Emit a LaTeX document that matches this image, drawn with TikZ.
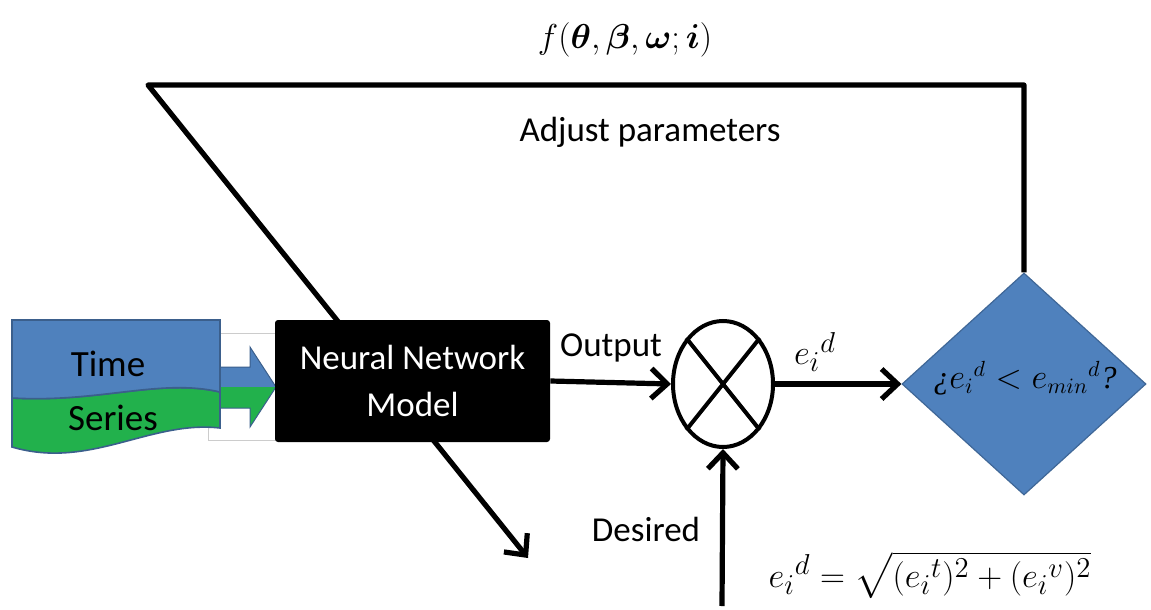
\documentclass[tikz,border=0pt]{standalone}
\usepackage{amsmath,amssymb}
\usepackage{fontspec}
\setmainfont{Carlito}
\newfontfamily\qfont{Liberation Serif}
\usetikzlibrary{arrows.meta,shapes.geometric}
\definecolor{offblue}{HTML}{4F81BD}
\definecolor{offblueline}{HTML}{3B5F8C}
\definecolor{tsgreen}{HTML}{22B14C}
\tikzset{
  flow/.style={line width=2.6pt, line join=round,
    -{Straight Barb[length=8pt,width=15pt]}},
  lbl/.style={font=\fontsize{17.5}{21}\selectfont, inner sep=0pt},
  mathlbl/.style={font=\fontsize{19}{22}\selectfont, inner sep=0pt},
  nnbox/.style={fill=black, text=white, rounded corners=1.5pt,
    minimum width=137.5pt, minimum height=61pt, align=center,
    font=\fontsize{17.5}{23.5}\selectfont},
  mixer/.style={ellipse, draw, line width=2pt, fill=white,
    minimum width=50pt, minimum height=63pt, inner sep=0pt},
  decision/.style={diamond, fill=offblue, draw=offblue!80!black, line width=0.6pt,
    minimum width=122pt, minimum height=111pt, inner sep=0pt}
}
\begin{document}
\begin{tikzpicture}[x=0.5pt,y=-0.5pt]
\useasboundingbox (0,0) rectangle (1151,610);

\coordinate (corner) at (148,85);
\coordinate (fbend) at (528,558);

% backing panel of the block arrow
\draw[black!20, line width=0.5pt, fill=white] (208,333) rectangle (276,440);

% input: time series document shape
\draw[draw=offblueline, line width=0.8pt, fill=tsgreen]
  (12,398) .. controls (100,403) and (160,378) .. (220,392)
  -- (220,428) .. controls (150,420) and (90,470) .. (12,447) -- cycle;
\draw[draw=offblueline, line width=0.8pt, fill=offblue]
  (12,320) -- (220,320) -- (220,392)
  .. controls (160,378) and (100,403) .. (12,398) -- cycle;
\node[lbl, anchor=base, font=\fontsize{18.5}{22}\selectfont] (time) at (108,376) {Time};
\node[lbl, anchor=base, font=\fontsize{18.5}{22}\selectfont] (series) at (113,430) {Series};

% block arrow into the model
\fill[offblue] (221,367) -- (250,367) -- (250,347) -- (276,387) -- (221,387) -- cycle;
\fill[tsgreen] (221,387) -- (276,387) -- (250,427) -- (250,408) -- (221,408) -- cycle;
\draw[offblueline, line width=0.5pt]
  (221,367) -- (250,367) -- (250,347) -- (276,387) -- (250,427) -- (250,408) -- (221,408);

% decision and feedback path (model block is drawn on top of it)
\node[decision] (dec) at (1024,384) {};
\draw[flow] (dec.north) |- (corner) -- (fbend);

% model
\node[nnbox] (nn) at (412.5,381) {Neural Network\\Model};

% mixer
\node[mixer] (mix) at (723,384) {};
\draw[line width=2pt] (mix.north west) -- (mix.south east);
\draw[line width=2pt] (mix.north east) -- (mix.south west);

% decision label
\node[mathlbl, font=\fontsize{16}{20}\selectfont] (declbl) at (1025,378)
  {{\qfont\itshape ¿}${e_i}^{d} < {e_{min}}^{d}${\qfont\itshape ?}};

% connectors
\draw[flow] (nn.east) -- (mix.west);
\draw[flow] (mix.east) -- (dec.west);
\coordinate (dsrc) at (722,606);
\draw[flow] (dsrc) -- (mix.south);

% labels
\node[lbl, anchor=base] (outl) at (611,356) {Output};
\node[lbl, anchor=base] (desl) at (646,541) {Desired};
\node[mathlbl] (errl) at (815,352) {${e_i}^{d}$};
\node[lbl, anchor=base] (adj) at (650,141) {Adjust parameters};
\node[mathlbl] (fun) at (625,40)
  {$f(\boldsymbol{\theta},\boldsymbol{\beta},\boldsymbol{\omega};\boldsymbol{i})$};
\node[mathlbl] (form) at (930,575)
  {${e_i}^{d} = \sqrt{({e_i}^{t})^2 + ({e_i}^{v})^2}$};
\end{tikzpicture}
\end{document}
